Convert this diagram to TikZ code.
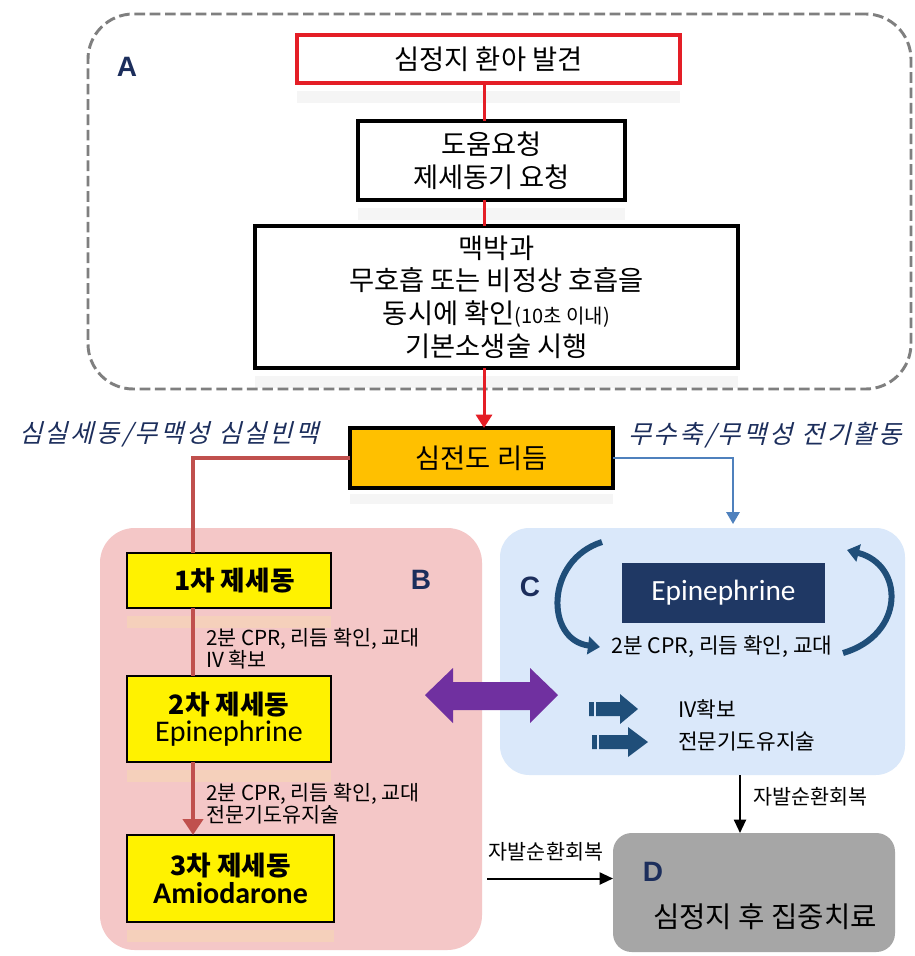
\documentclass[tikz,border=0pt]{standalone}
\usepackage{fontspec}
\setmainfont{Noto Sans CJK KR}
\newfontfamily\krit[FakeSlant=0.25,LetterSpace=10]{Noto Sans CJK KR}
\newfontfamily\lat{Carlito}
\newfontfamily\arl{Liberation Sans}
\usetikzlibrary{arrows.meta}
\definecolor{navy}{HTML}{1C2E5C}
\definecolor{ecgor}{HTML}{FFC000}
\definecolor{pinkB}{HTML}{F4C7C7}
\definecolor{blueC}{HTML}{DAE8FA}
\definecolor{grayD}{HTML}{A6A6A6}
\definecolor{epiblue}{HTML}{1F3864}
\definecolor{darkred}{HTML}{C0504D}
\definecolor{brightred}{HTML}{E41E26}
\definecolor{lineblue}{HTML}{4F81BD}
\definecolor{arrowblue}{HTML}{1F4E79}
\definecolor{purp}{HTML}{7030A0}
\definecolor{dashgray}{HTML}{7F7F7F}
\definecolor{peach}{HTML}{F6D3B8}
\begin{document}
\begin{tikzpicture}[x=0.75pt,y=-0.75pt,
  every node/.style={inner sep=0pt, outer sep=0pt},
  redbox/.style={draw=brightred, line width=2.5pt, fill=white},
  blkbox/.style={draw=black, line width=3pt, fill=white},
  ecgbox/.style={draw=black, line width=3pt, fill=ecgor},
  ybox/.style={draw=black, line width=0.9pt, fill=yellow},
  region/.style={rounded corners=#1},
  bigtxt/.style={font=\fontsize{20.5}{24.5}\selectfont, align=center},
  smalltxt/.style={font=\fontsize{15.5}{16.5}\selectfont, align=left},
  midtxt/.style={font=\fontsize{16}{16}\selectfont},
  letter/.style={font=\arl\bfseries\fontsize{21}{21}\selectfont, text=navy},
  itlabel/.style={font=\krit\fontsize{19}{19}\selectfont, text=navy},
  redline/.style={draw=brightred, line width=2.25pt},
  drline/.style={draw=darkred, line width=3pt},
  blline/.style={draw=lineblue, line width=1.6pt},
  carrow/.style={draw=arrowblue, line width=4.5pt, -{Triangle[length=9pt,width=13pt]}},
  blkarrow/.style={draw=black, line width=1.5pt, -{Triangle[length=10pt,width=9pt]}},
  refl/.style={fill=black, opacity=0.04},
  reflB/.style={fill=peach, opacity=0.8}
]
\useasboundingbox (0,0) rectangle (914,956);
\fill[white] (0,0) rectangle (914,956);

% region A
\node[draw=dashgray, line width=2.2pt, dash pattern=on 8pt off 3.5pt, rounded corners=34pt,
  minimum width={823*0.75pt}, minimum height={375*0.75pt}] (regA) at (499.5,201.5) {};
\node[letter] (lA) at (127,67) {A};

% top boxes
\node[redbox, minimum width={383*0.75pt}, minimum height={48*0.75pt}, bigtxt] (start) at (488.5,59) {심정지 환아 발견};
\node[blkbox, minimum width={267*0.75pt}, minimum height={79*0.75pt}, bigtxt] (help) at (491.5,160.5) {도움요청\\제세동기 요청};
\node[blkbox, minimum width={483*0.75pt}, minimum height={142*0.75pt}, bigtxt] (check) at (496.5,297)
  {맥박과\\무호흡 또는 비정상 호흡을\\동시에 확인{\fontsize{15}{15}\selectfont(10초 이내)}\\기본소생술 시행};
\fill[refl] (start.south west) ++(0,8) rectangle ++(383,12);
\fill[refl] (help.south west) ++(0,8) rectangle ++(267,12);
\fill[refl] (check.south west) ++(0,8) rectangle ++(483,12);
\coordinate (lx) at (484,0);
\draw[redline] (start.south -| lx) -- (help.north -| lx);
\draw[redline] (help.south -| lx) -- (check.north -| lx);

% ECG
\node[ecgbox, minimum width={263*0.75pt}, minimum height={60*0.75pt}, bigtxt] (ecg) at (481.5,458) {심전도 리듬};
\fill[refl] (ecg.south west) ++(0,6) rectangle ++(263,10);
\draw[redline, -{Triangle[length=10pt,width=12pt]}] (check.south -| lx) -- (ecg.north -| lx);
\node[itlabel] (lvf) at (169,434) {심실세동/무맥성 심실빈맥};
\node[itlabel] (lpea) at (765,435) {무수축/무맥성 전기활동};

% regions B, C, D
\node[region=26pt, fill=pinkB, minimum width={382*0.75pt}, minimum height={422*0.75pt}] (regB) at (291,739) {};
\node[region=22pt, fill=blueC, minimum width={405*0.75pt}, minimum height={247*0.75pt}] (regC) at (702.5,651.5) {};
\node[region=14pt, fill=grayD, minimum width={282*0.75pt}, minimum height={119*0.75pt}] (regD) at (754,892.5) {};

% B content
\node[ybox, minimum width={204*0.75pt}, minimum height={55*0.75pt}, font=\bfseries\fontsize{20}{20}\selectfont] (d1) at (229,580.5) {\hspace*{8pt}1차 제세동};
\node[ybox, minimum width={204*0.75pt}, minimum height={86*0.75pt}, align=center] (d2) at (229,719)
  {{\bfseries\fontsize{20}{20}\selectfont 2차 제세동}\\[2pt]{\lat\fontsize{22.5}{22.5}\selectfont Epinephrine}};
\node[ybox, minimum width={207*0.75pt}, minimum height={87*0.75pt}, align=center] (d3) at (230.5,878.5)
  {{\bfseries\fontsize{20}{20}\selectfont 3차 제세동}\\[2pt]{\lat\bfseries\fontsize{22.5}{22.5}\selectfont Amiodarone}};
\fill[reflB] (d1.south west) ++(0,8) rectangle ++(204,12);
\fill[reflB] (d2.south west) ++(0,8) rectangle ++(204,12);
\fill[reflB] (d3.south west) ++(0,8) rectangle ++(207,12);
\coordinate (lxb) at (193,0);
\draw[drline] (ecg.west) -| (d1.north -| lxb);
\draw[drline] (d1.south -| lxb) -- (d2.north -| lxb);
\draw[drline, -{Triangle[length=12pt,width=15pt]}] (d2.south -| lxb) -- (d3.north -| lxb);
\node[smalltxt, anchor=west] (t1) at (206,649) {2분 CPR, 리듬 확인, 교대\\IV 확보};
\node[smalltxt, anchor=west] (t2) at (206,804) {2분 CPR, 리듬 확인, 교대\\전문기도유지술};
\node[letter] (lB) at (421,580) {B};

% C content
\coordinate (bx) at (733,0);
\draw[blline, -{Triangle[length=9pt,width=10pt]}] (ecg.east) -| ([yshift=3pt]regC.north -| bx);
\node[letter] (lC) at (530,587) {C};
\node[fill=epiblue, text=white, minimum width={203*0.75pt}, minimum height={60*0.75pt}, font=\lat\fontsize{22}{22}\selectfont] (epi) at (723.5,593) {Epinephrine};
\node[midtxt] (t3) at (722,647) {2분 CPR, 리듬 확인, 교대};
\draw[carrow] (602,542) .. controls (545,560) and (545,640) .. (600,647);
\draw[carrow] (843,653) .. controls (905,635) and (905,565) .. (847,550);
\fill[arrowblue] (589,702) -- (620,702) -- (620,694) -- (638,709) -- (620,724) -- (620,716) -- (589,716) -- cycle;
\fill[arrowblue] (592,735) -- (628,735) -- (628,727) -- (648,742) -- (628,757) -- (628,749) -- (592,749) -- cycle;
\draw[blueC, line width=0.8pt] (595,701) -- (595,717);
\draw[blueC, line width=0.8pt] (598,734) -- (598,750);
\node[midtxt, anchor=west] (t4) at (678,709) {IV확보};
\node[midtxt, anchor=west] (t5) at (678,742) {전문기도유지술};

% purple double arrow
\fill[purp] (425,695) -- (453,668) -- (453,682) -- (530,682) -- (530,668) -- (558,695) -- (530,723) -- (530,710) -- (453,710) -- (453,723) -- cycle;

% D content
\coordinate (dx) at (740,0);
\draw[blkarrow] (regC.south -| dx) -- (regD.north -| dx);
\node[smalltxt, anchor=west] (t6) at (753,797) {자발순환회복};
\draw[blkarrow] ([xshift=3.75pt]regB.east |- d3.center) -- (regD.west |- d3.center);
\node[smalltxt] (t7) at (546,852) {자발순환회복};
\node[letter] (lD) at (653,872) {D};
\node[font=\fontsize{21.5}{21.5}\selectfont] (t8) at (765,917) {심정지 후 집중치료};
\end{tikzpicture}
\end{document}
